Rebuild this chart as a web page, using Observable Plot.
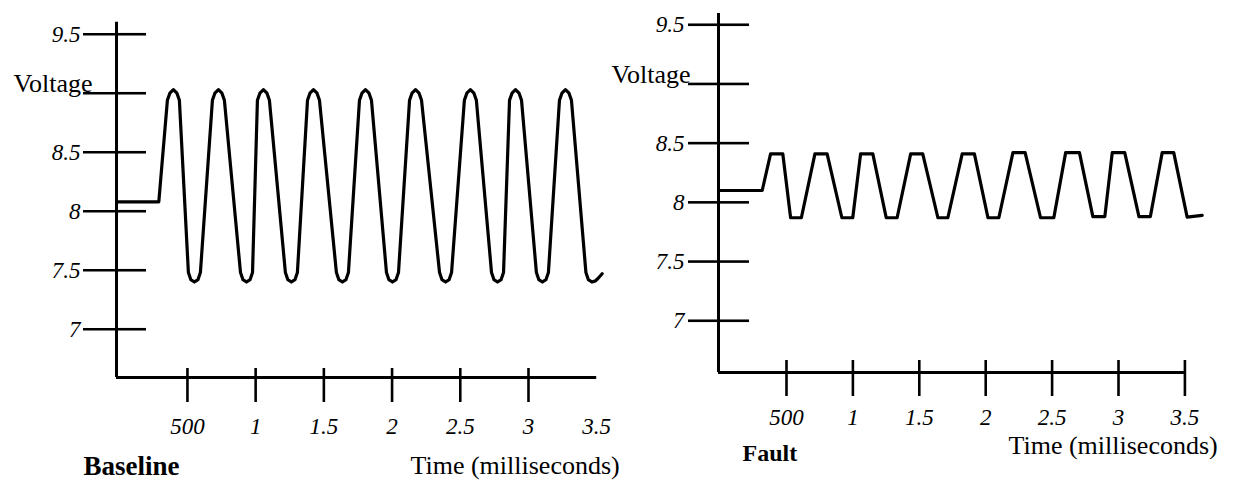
<!DOCTYPE html>
<html><head><meta charset="utf-8">
<script src="https://cdn.jsdelivr.net/npm/d3@7"></script>
<script src="https://cdn.jsdelivr.net/npm/@observablehq/plot@0.6"></script>
<style>
html,body{margin:0;padding:0;background:#fff;}
#chart{position:relative;width:1238px;height:481px;overflow:hidden;background:#fff;}
#chart svg{position:absolute;left:0;top:0;overflow:visible;background:transparent;}
</style></head><body><div id="chart"></div>
<script>
// ---- axis ticks and labels ----
const yTicks = [7, 7.5, 8, 8.5, 9, 9.5];
const yTickLabels = ["7", "7.5", "8", "8.5", "Voltage", "9.5"];
const xTicks = [0.5, 1, 1.5, 2, 2.5, 3, 3.5];
const xTickLabels = ["500", "1", "1.5", "2", "2.5", "3", "3.5"];
const baselineTickMarks = [0.5, 1, 1.5, 2, 2.5, 3];
const faultTickMarks = [0.5, 1, 1.5, 2, 2.5, 3, 3.5];
const panelTitles = ["Baseline", "Fault"];
const xTitle = "Time (milliseconds)";

// ---- Baseline waveform (time ms, voltage) ----
const baselineTime = [-0.02, 0.29,
  0.353, 0.371, 0.397, 0.423, 0.441,  0.507, 0.525, 0.551, 0.577, 0.595,
  0.683, 0.701, 0.727, 0.753, 0.771,  0.889, 0.907, 0.933, 0.959, 0.977,
  1.013, 1.031, 1.057, 1.083, 1.101,  1.218, 1.236, 1.262, 1.288, 1.306,
  1.380, 1.398, 1.424, 1.450, 1.468,  1.592, 1.610, 1.636, 1.662, 1.680,
  1.761, 1.779, 1.805, 1.831, 1.849,  1.959, 1.977, 2.003, 2.029, 2.047,
  2.128, 2.146, 2.172, 2.198, 2.216,  2.348, 2.366, 2.392, 2.418, 2.436,
  2.530, 2.548, 2.574, 2.600, 2.618,  2.729, 2.747, 2.773, 2.799, 2.817,
  2.861, 2.879, 2.905, 2.931, 2.949,  3.058, 3.076, 3.102, 3.128, 3.146,
  3.227, 3.245, 3.271, 3.297, 3.315,  3.421, 3.439, 3.465, 3.491, 3.509, 3.540];
const baselineVolt = [8.08, 8.08,
  8.94, 9.00, 9.03, 9.00, 8.94,  7.48, 7.42, 7.40, 7.42, 7.48,
  8.94, 9.00, 9.03, 9.00, 8.94,  7.48, 7.42, 7.40, 7.42, 7.48,
  8.94, 9.00, 9.03, 9.00, 8.94,  7.48, 7.42, 7.40, 7.42, 7.48,
  8.94, 9.00, 9.03, 9.00, 8.94,  7.48, 7.42, 7.40, 7.42, 7.48,
  8.94, 9.00, 9.03, 9.00, 8.94,  7.48, 7.42, 7.40, 7.42, 7.48,
  8.94, 9.00, 9.03, 9.00, 8.94,  7.48, 7.42, 7.40, 7.42, 7.48,
  8.94, 9.00, 9.03, 9.00, 8.94,  7.48, 7.42, 7.40, 7.42, 7.48,
  8.94, 9.00, 9.03, 9.00, 8.94,  7.48, 7.42, 7.40, 7.42, 7.48,
  8.94, 9.00, 9.03, 9.00, 8.94,  7.48, 7.42, 7.40, 7.41, 7.43, 7.47];

// ---- Fault waveform (time ms, voltage) ----
const faultTime = [-0.01, 0.317,
  0.380, 0.472, 0.531, 0.612,
  0.714, 0.806, 0.917, 0.999,
  1.058, 1.150, 1.251, 1.333,
  1.435, 1.526, 1.640, 1.715,
  1.823, 1.915, 2.017, 2.099,
  2.205, 2.297, 2.413, 2.513,
  2.602, 2.706, 2.807, 2.897,
  2.953, 3.047, 3.154, 3.240,
  3.329, 3.416, 3.517, 3.630];
const faultVolt = [8.10, 8.10,
  8.41, 8.41, 7.87, 7.87,
  8.41, 8.41, 7.87, 7.87,
  8.41, 8.41, 7.87, 7.87,
  8.41, 8.41, 7.87, 7.87,
  8.41, 8.41, 7.87, 7.87,
  8.42, 8.42, 7.87, 7.87,
  8.42, 8.42, 7.88, 7.88,
  8.42, 8.42, 7.88, 7.88,
  8.42, 8.42, 7.875, 7.89];

const xMax = 3.5;
const serif = "'Liberation Serif', 'Times New Roman', Times, serif";

function panel(c) {
  const rows = c.time.map((t, i) => ({t, v: c.volt[i]}));
  const voltageRow = [{v: yTicks[4], label: yTickLabels[4]}];
  return Plot.plot({
    width: 1238, height: 481,
    marginLeft: c.ml, marginRight: c.mr, marginTop: c.mt, marginBottom: c.mb,
    x: {domain: [c.xMin, xMax], label: null},
    y: {domain: [c.yMin, c.yMax], label: null},
    style: {fontFamily: serif, background: "transparent", overflow: "visible", color: "#000"},
    marks: [
      Plot.ruleX([c.xMin], {strokeWidth: 3, stroke: "#000"}),
      Plot.ruleY([c.yMin], {strokeWidth: 3, stroke: "#000"}),
      Plot.axisY({ticks: yTicks, tickSize: c.yOut, tickPadding: c.yPad, strokeWidth: 2.6,
        tickFormat: d => d === 9 ? "" : yTickLabels[yTicks.indexOf(d)],
        fontSize: 23, fontStyle: "italic", fill: "#000", label: null}),
      Plot.axisY({ticks: yTicks, tickSize: -c.yIn, strokeWidth: 2.6, tickFormat: () => "", label: null}),
      Plot.axisX({ticks: c.marks, tickSize: c.xDown, strokeWidth: 2.6, tickFormat: () => "", label: null}),
      Plot.axisX({ticks: c.marks, tickSize: -c.xUp, strokeWidth: 2.6, tickFormat: () => "", label: null}),
      Plot.axisX({ticks: xTicks, tickSize: 0, tickPadding: c.xPad,
        tickFormat: d => xTickLabels[xTicks.indexOf(d)],
        fontSize: 23, fontStyle: "italic", fill: "#000", label: null}),
      Plot.text(voltageRow, {y: "v", text: "label", frameAnchor: "left", textAnchor: "end",
        lineAnchor: "bottom", dx: c.vdx, dy: c.vdy, fontSize: 26, fill: "#000"}),
      Plot.line(rows, {x: "t", y: "v", curve: "linear", strokeWidth: 3.2, stroke: "#000",
        strokeLinejoin: "round", strokeLinecap: "round"}),
      Plot.text([c.title], {frameAnchor: "bottom-left", textAnchor: "start", lineAnchor: "bottom",
        dx: c.tdx, dy: c.tdy, fontSize: c.tfs, fontWeight: "bold", fill: "#000"}),
      Plot.text([xTitle], {frameAnchor: "bottom-left", textAnchor: "start", lineAnchor: "bottom",
        dx: c.xtdx, dy: c.xtdy, fontSize: 26, fill: "#000"})
    ]
  });
}

const left = panel({
  time: baselineTime, volt: baselineVolt, marks: baselineTickMarks, title: panelTitles[0],
  xMin: -0.02, yMin: 6.591, yMax: 9.602,
  ml: 116, mr: 641.8, mt: 21.7, mb: 104,
  yOut: 33, yIn: 30, yPad: 3, xDown: 25, xUp: 9, xPad: 40,
  vdx: -24, vdy: -1, tdx: -33, tdy: 97, tfs: 27, xtdx: 294, xtdy: 96
});
const right = panel({
  time: faultTime, volt: faultVolt, marks: faultTickMarks, title: panelTitles[1],
  xMin: -0.012, yMin: 6.563, yMax: 9.595,
  ml: 718, mr: 53.6, mt: 13, mb: 109,
  yOut: 30, yIn: 31, yPad: 4, xDown: 24, xUp: 12, xPad: 36,
  vdx: -28, vdy: -1, tdx: 24, tdy: 88, tfs: 24, xtdx: 290, xtdy: 81
});
const chart = document.getElementById("chart");
chart.appendChild(left);
chart.appendChild(right);
</script></body></html>
